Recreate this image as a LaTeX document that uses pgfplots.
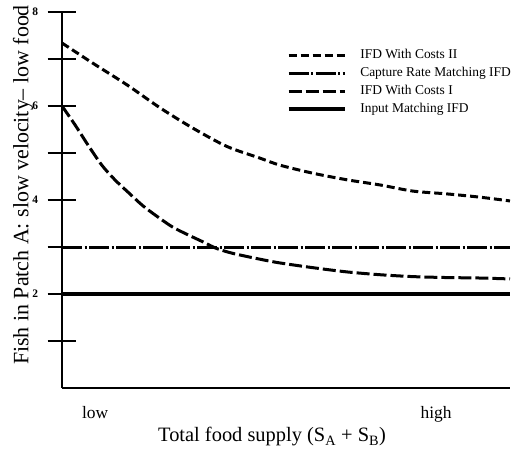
\documentclass[border=0pt]{standalone}
\usepackage{pgfplots}
\pgfplotsset{compat=1.18}
\usepackage{fontspec}
\setmainfont{Liberation Serif}
\begin{document}
\begin{tikzpicture}
\useasboundingbox (0,0) rectangle (512bp,450bp);
\begin{axis}[
  at={(62bp,62bp)}, anchor=south west,
  scale only axis, width=448bp, height=376bp,
  xmin=0, xmax=10, ymin=0, ymax=8,
  axis lines=left,
  axis line style={-, line width=1.6bp, black},
  ytick={1,2,3,4,5,6,7,8},
  yticklabels={,2,,4,,6,,8},
  yticklabel style={font=\fontsize{11.5}{13}\selectfont\bfseries, xshift=-6bp},
  xtick={0.74,8.35},
  xticklabels={low,high},
  xticklabel style={font=\fontsize{17.5}{20}\selectfont},
  x tick style={draw=none},
  y tick style={line width=1.6bp, black},
  major tick length=29bp,
  tick align=center,
  xlabel={Total food supply (S\textsubscript{A} + S\textsubscript{B})},
  ylabel={Fish in Patch A: slow velocity-- low food},
  xlabel style={font=\fontsize{20.5}{23}\selectfont, at={(axis description cs:0.469,-0.1436)}, anchor=base},
  ylabel style={font=\fontsize{22}{25}\selectfont, at={(axis description cs:-0.087,0.54)}, anchor=center, rotate=0},
  legend style={at={(axis description cs:0.502,0.902)}, anchor=north west,
    draw=none, fill=none, inner sep=0pt, column sep=14bp, row sep=6bp,
    nodes={inner sep=0pt, text height=9bp, text depth=3bp},
    font=\fontsize{13.5}{15}\selectfont},
  legend cell align=left,
  legend image code/.code={\draw[#1] (0bp,0bp) -- (56bp,0bp);},
  clip=false,
]
\addplot[black, line width=3bp, dash pattern=on 8bp off 4bp, smooth] coordinates {
(0,7.34) (0.69,6.91) (1.45,6.45) (2.19,5.96) (2.92,5.53) (3.68,5.14) (4.42,4.89)
(4.87,4.74) (5.60,4.57) (6.36,4.43) (7.10,4.32) (7.83,4.19) (8.59,4.13) (9.33,4.06) (10,3.98)};
\addlegendentry{IFD With Costs II}
\addplot[black, line width=3bp, dash pattern=on 20bp off 2.5bp on 2bp off 2.5bp] coordinates {(0,3) (10,3)};
\addlegendentry{Capture Rate Matching IFD}
\addplot[black, line width=3bp, dash pattern=on 13bp off 4bp, smooth] coordinates {
(0,6.0) (0.29,5.60) (0.58,5.17) (0.89,4.74) (1.18,4.43) (1.47,4.17) (1.79,3.89) (2.08,3.68)
(2.46,3.43) (2.81,3.26) (3.19,3.09) (3.42,2.98) (3.79,2.87) (4.42,2.74) (4.87,2.66) (5.60,2.56)
(6.36,2.47) (7.10,2.41) (7.83,2.37) (8.59,2.35) (9.33,2.34) (10,2.32)};
\addlegendentry{IFD With Costs I}
\addplot[black, line width=3.2bp] coordinates {(0,2) (10,2)};
\addlegendentry{Input Matching IFD}
\end{axis}
\end{tikzpicture}
\end{document}
